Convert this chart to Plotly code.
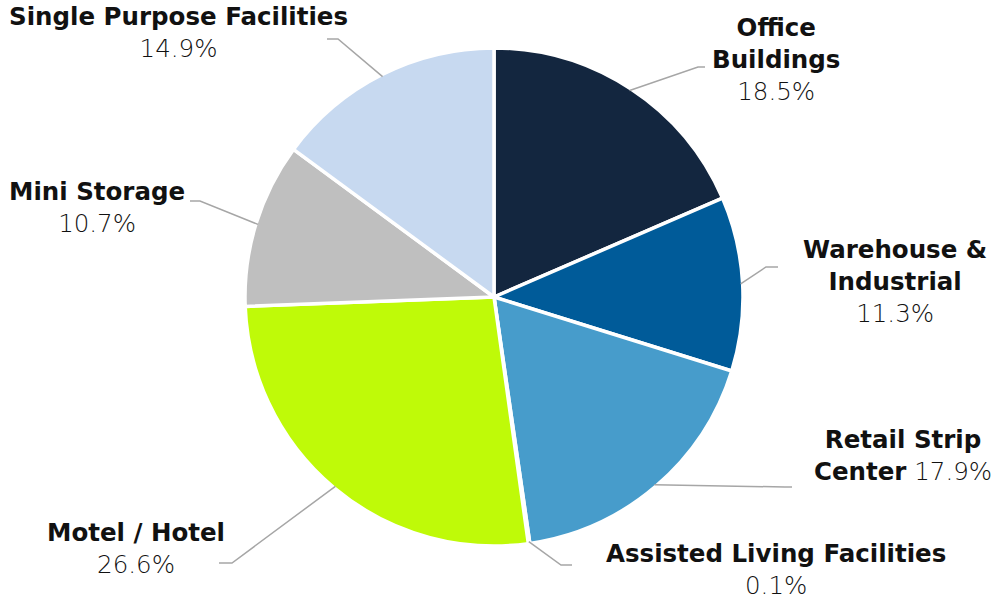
import math
import plotly.graph_objects as go

W, H = 1000, 599

# Slice data, clockwise from 12 o'clock
sectors = ["Office Buildings", "Warehouse & Industrial", "Retail Strip Center",
           "Assisted Living Facilities", "Motel / Hotel", "Mini Storage",
           "Single Purpose Facilities"]
shares = [18.5, 11.3, 17.9, 0.1, 26.6, 10.7, 14.9]
colors = ["#13263f", "#005b99", "#479ccb", "#dae3f3", "#bffa08", "#bfbfbf", "#c7d9f0"]

# Label texts (bold name lines, then percentage)
name_lines = [["Office", "Buildings"], ["Warehouse &", "Industrial"], ["Retail Strip"],
              ["Assisted Living Facilities"], ["Motel / Hotel"], ["Mini Storage"],
              ["Single Purpose Facilities"]]

# Layout: label centres and leader-line elbow/end points (pixels)
label_pos = [(776, 59), (895, 281), (903, 455), (776, 569), (136, 548), (97, 208), (178, 32)]
leader_pts = [[(698, 67), (705, 67)], [(766, 267), (778, 267)], [(785, 487), (792, 487)],
              [(561, 565), (572, 565)], [(232, 563), (219, 563)], [(200, 201), (190, 201)],
              [(338, 39), (327, 39)]]

cx, cy, r = 494, 297, 249


def px(x, y):
    return x / W, 1 - y / H


fig = go.Figure(go.Pie(
    labels=sectors,
    values=shares,
    sort=False,
    direction="clockwise",
    rotation=0,
    marker=dict(colors=colors, line=dict(color="white", width=3.5)),
    textinfo="none",
    hoverinfo="label+percent",
    domain=dict(x=[(cx - r) / W, (cx + r) / W], y=[1 - (cy + r) / H, 1 - (cy - r) / H]),
))

annotations = []
shapes = []
total = sum(shares)
cum = 0
for i, v in enumerate(shares):
    mid = (cum + v / 2) / total * 2 * math.pi
    cum += v
    # leader line starts at slice edge at mid angle
    sx = cx + (r - 2) * math.sin(mid)
    sy = cy - (r - 2) * math.cos(mid)
    pts = [(sx, sy)] + leader_pts[i]
    path = "M " + " L ".join(f"{px(x, y)[0]:.5f},{px(x, y)[1]:.5f}" for x, y in pts)
    shapes.append(dict(type="path", path=path, xref="paper", yref="paper",
                       line=dict(color="#a6a6a6", width=1.5)))

    pct = f"<span style='font-weight:300'>{v:.1f}%</span>"
    names = name_lines[i]
    if sectors[i] == "Retail Strip Center":
        text = "<b>Retail Strip</b><br><b>Center</b> " + pct
    else:
        text = "<br>".join(f"<b>{n}</b>" for n in names) + "<br>" + pct
    lx, ly = px(*label_pos[i])
    annotations.append(dict(x=lx, y=ly, xref="paper", yref="paper", text=text,
                            showarrow=False, xanchor="center", yanchor="middle",
                            align="center", font=dict(size=24.5, color="#111111")))

fig.update_layout(
    width=W, height=H,
    margin=dict(l=0, r=0, t=0, b=0),
    showlegend=False,
    paper_bgcolor="white",
    plot_bgcolor="white",
    font=dict(family="DejaVu Sans", color="#111111"),
    annotations=annotations,
    shapes=shapes,
)

# drop the browser's default page margin so the chart sits at the window origin
fig.write_html("out.html", config={"displayModeBar": False},
               post_script="document.body.style.margin='0';")
